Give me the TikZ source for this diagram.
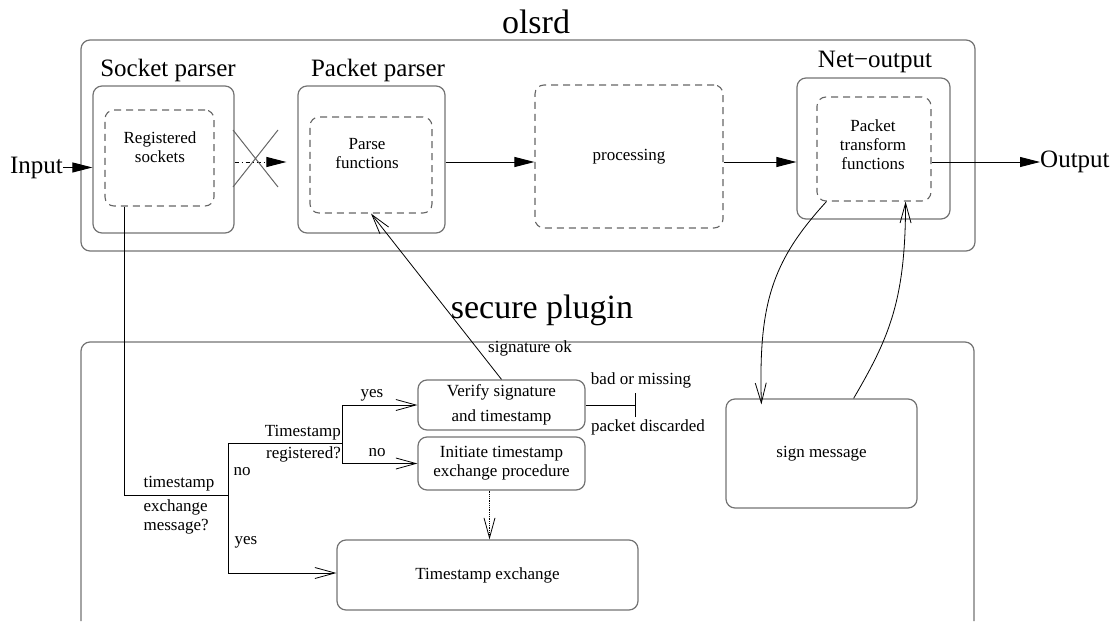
\documentclass[tikz,border=0pt]{standalone}
\usepackage{fontspec}
\setmainfont{LiberationSerif}[Extension=.ttf,UprightFont=*-Regular,BoldFont=*-Bold,ItalicFont=*-Italic]
\usetikzlibrary{arrows.meta,positioning}

\begin{document}
\begin{tikzpicture}[x=1pt,y=-1pt,
  every node/.style={font=\rmfamily\fontsize{17}{19}\selectfont},
  frame/.style={draw=black!55,line width=1.2pt,rounded corners=9pt,inner sep=0pt},
  dbox/.style={draw=black!60,line width=1.1pt,dash pattern=on 7pt off 5pt,rounded corners=9pt,inner sep=0pt},
  big/.style={font=\rmfamily\fontsize{34}{38}\selectfont},
  mid/.style={font=\rmfamily\fontsize{25}{28}\selectfont},
  farr/.style={-{Triangle[length=20pt,width=10pt]},line width=0.9pt},
  oarr/.style={-{Straight Barb[length=20pt,width=11pt]},line width=0.8pt}]
  \useasboundingbox (0,0) rectangle (1116,621);

  % olsrd part
  \node[frame,minimum width=894pt,minimum height=211pt] (olsrd) at (528,145.5) {};
  \node[big,anchor=base] at (536,33) {olsrd};
  \node[frame,minimum width=141pt,minimum height=147pt] (sock)    at (163.5,159.5) {};
  \node[dbox,minimum width=109pt,minimum height=96pt]   (regs)    at (159.5,158) {};
  \node[frame,minimum width=147pt,minimum height=147pt] (pparser) at (371.5,159.5) {};
  \node[dbox,minimum width=122pt,minimum height=96pt]   (parse)   at (371,165) {};
  \node[dbox,minimum width=188pt,minimum height=143pt]  (proc)    at (629,156.5) {};
  \node[frame,minimum width=153pt,minimum height=141pt] (netout)  at (873.5,148.5) {};
  \node[dbox,minimum width=114pt,minimum height=104pt]  (ptf)     at (874,149) {};

  \node[mid,anchor=base] at (168,76) {Socket parser};
  \node[mid,anchor=base] at (378,76) {Packet parser};
  \node[mid,anchor=base] at (875,67) {Net−output};
  \node[align=center] at (160,147) {Registered\\sockets};
  \node[align=center] at (367,154) {Parse\\functions};
  \node at (629,157) {processing};
  \node[align=center] at (873,145) {Packet\\transform\\functions};

  \node[mid,anchor=base east,inner sep=0pt] (in)  at (63,173) {Input};
  \node[mid,anchor=west,inner sep=0pt]      (out) at (1040,162) {Output};
  \coordinate (ax) at (0,162);

  \draw[farr] (in.east) -- (in.east -| sock.west);
  \draw[farr,dash pattern=on 4pt off 3pt on 1pt off 3pt] (sock.east |- ax) -- ([xshift=-11pt]pparser.west |- ax);
  \draw[black!60,line width=1pt] (233,130) -- (278,187) (233,187) -- (278,130);
  \draw[farr] (pparser.east |- ax) -- (proc.west |- ax);
  \draw[farr] (proc.east |- ax) -- (netout.west |- ax);
  \draw[farr] (ptf.east |- out.west) -- (out.west);

  % secure plugin part
  \draw[black!55,line width=1.2pt,rounded corners=9pt] (81,621) -- (81,342) -- (974,342) -- (974,621);
  \node[big,anchor=base] at (542,318) {secure plugin};
  \node[frame,minimum width=167pt,minimum height=50pt,align=center,
        font=\rmfamily\fontsize{17}{25}\selectfont]              (verify) at (501.5,405) {Verify signature\\and timestamp};
  \node[frame,minimum width=167pt,minimum height=53pt,align=center] (init) at (501.5,463.5) {Initiate timestamp\\exchange procedure};
  \node[frame,minimum width=301pt,minimum height=70pt] (tsx)  at (487.5,575) {Timestamp exchange};
  \node[frame,minimum width=191pt,minimum height=109pt] (sign) at (821.5,453.5) {sign message};

  \coordinate (q1) at (228,495);
  \coordinate (q2) at (342,443);
  \coordinate (cut) at (635,405);

  \draw[line width=0.8pt] ([xshift=-35pt]regs.south) |- (q1);
  \draw[line width=0.8pt] (q1) |- (q2);
  \draw[oarr] (q2) |- (verify.west);
  \draw[oarr] (q2) |- (init.west);
  \draw[oarr] (q1) |- ([yshift=2pt]tsx.west);
  \draw[oarr,densely dotted] ([xshift=-12pt]init.south) -- ([xshift=-12pt]init.south |- tsx.north);
  \draw[line width=0.8pt] (verify.east) -- (cut) ([yshift=-12pt]cut) -- ([yshift=12pt]cut);
  \draw[oarr] (verify.north) -- (parse.south);
  \draw[oarr] ([xshift=10pt]ptf.south west) .. controls +(-55,60) and +(-3,-100) .. ([xshift=36pt,yshift=-6pt]sign.north west);
  \draw[oarr] ([xshift=-64pt]sign.north east) .. controls +(35,-60) and +(0,100) .. ([xshift=-26pt]ptf.south east);

  \node[anchor=south west] at (140,495) {timestamp};
  \node[anchor=north west,align=left] at (140,496) {exchange\\message?};
  \node[anchor=south east,inner sep=1pt] at (342,441) {Timestamp};
  \node[anchor=north east,inner sep=1pt] at (342,445) {registered?};
  \node at (372,395) {yes};
  \node at (377,453) {no};
  \node at (242,472) {no};
  \node at (246,542) {yes};
  \node at (641,380) {bad or missing};
  \node at (648,427) {packet discarded};
  \node at (530,348) {signature ok};
\end{tikzpicture}
\end{document}
